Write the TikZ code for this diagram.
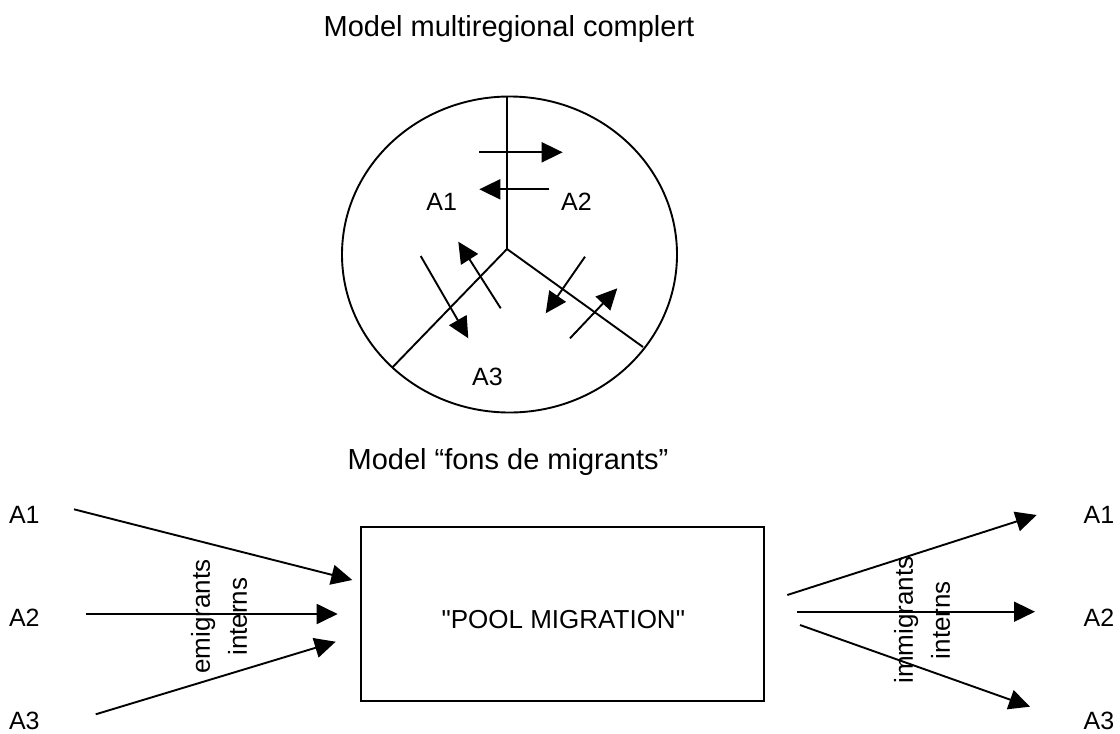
\documentclass[tikz,border=0pt]{standalone}
\usepackage{fontspec}
\setmainfont{Liberation Sans}[Ligatures=TeXOff]
\usetikzlibrary{arrows.meta,shapes.geometric}
\begin{document}
\begin{tikzpicture}[x=1pt,y=-1pt,
  line/.style={line width=1.9pt},
  arr/.style={line width=1.9pt,-{Triangle[length=21pt,width=20pt]}},
  ttl/.style={font=\fontsize{29}{35}\selectfont, anchor=base, inner sep=0pt},
  lab/.style={font=\fontsize{25}{30}\selectfont, anchor=base, inner sep=0pt},
  vlab/.style={font=\fontsize{26}{37}\selectfont, rotate=90, align=center, inner sep=0pt},
]
\useasboundingbox (0,0) rectangle (1120,734);

% titles
\node[ttl] (t1) at (509,36) {Model multiregional complert};
\node[ttl] (t2) at (508,469) {Model “fons de migrants”};

% multiregional circle
\node[draw, ellipse, line, minimum width=335pt, minimum height=316pt, inner sep=0pt] (circ) at (509.5,254.5) {};
\coordinate (J) at (507,249);
\coordinate (LL) at (392.5,367.3);
\coordinate (LR) at (643,347);
\draw[line] (J) -- (J |- circ.north);
\draw[line] (J) -- (LL);
\draw[line] (J) -- (LR);

\node[lab] (c1) at (441.7,210.7) {A1};
\node[lab] (c2) at (576.5,210.7) {A2};
\node[lab] (c3) at (487.5,385) {A3};

\coordinate (h1s) at (479.3,152.3); \coordinate (h1e) at (562.7,152.3);
\coordinate (h2s) at (549.3,189.3); \coordinate (h2e) at (479.3,189.3);
\coordinate (d1s) at (420.7,256);   \coordinate (d1e) at (468.3,338.3);
\coordinate (d2s) at (500.7,308.3); \coordinate (d2e) at (458.3,241.7);
\coordinate (d3s) at (585,256.7);   \coordinate (d3e) at (545.7,313.3);
\coordinate (d4s) at (570,338.3);   \coordinate (d4e) at (617.3,288.3);
\draw[arr] (h1s) -- (h1e);
\draw[arr] (h2s) -- (h2e);
\draw[arr] (d1s) -- (d1e);
\draw[arr] (d2s) -- (d2e);
\draw[arr] (d3s) -- (d3e);
\draw[arr] (d4s) -- (d4e);

% pool
\node[draw, line width=2.8pt, minimum width=403pt, minimum height=174pt, inner sep=0pt] (pool) at (562.5,614) {};
\node[font=\fontsize{26}{31}\selectfont, anchor=base, inner sep=0pt] (pooltxt) at (563.3,628.3) {"POOL MIGRATION"};

% left side
\node[lab] (l1) at (24.3,523.3) {A1};
\node[lab] (l2) at (24.3,626.7) {A2};
\node[lab] (l3) at (24.3,729.5) {A3};
\coordinate (la1s) at (74,509.3);   \coordinate (la1e) at (352.3,580);
\coordinate (la2s) at (86,614);     \coordinate (la2e) at (337.7,614);
\coordinate (la3s) at (95.7,714.3); \coordinate (la3e) at (335.7,641.7);
\draw[arr] (la1s) -- (la1e);
\draw[arr] (la2s) -- (la2e);
\draw[arr] (la3s) -- (la3e);
\node[vlab] (em) at (219.2,616.7) {emigrants\\interns};

% right side
\node[lab] (r1) at (1099,523.3) {A1};
\node[lab] (r2) at (1099,626.7) {A2};
\node[lab] (r3) at (1099,729.5) {A3};
\coordinate (ra1s) at (787.3,595);   \coordinate (ra1e) at (1036.7,515);
\coordinate (ra2s) at (797.3,611.7); \coordinate (ra2e) at (1035,611.7);
\coordinate (ra3s) at (800,625);     \coordinate (ra3e) at (1030,706.7);
\draw[arr] (ra1s) -- (ra1e);
\draw[arr] (ra2s) -- (ra2e);
\draw[arr] (ra3s) -- (ra3e);
\node[vlab] (im) at (922,620) {immigrants\\interns};
\end{tikzpicture}
\end{document}
